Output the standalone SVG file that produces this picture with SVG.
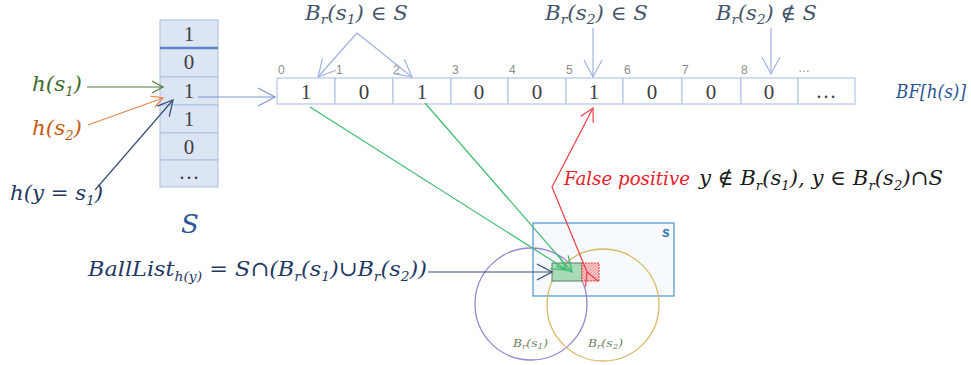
<svg xmlns="http://www.w3.org/2000/svg" width="971" height="365" viewBox="0 0 971 365">
<defs>
<style>
.m{font-family:"DejaVu Serif","Liberation Serif",serif;font-style:italic;}
.cell{fill:#dbe5f3;stroke:#a9bfdf;stroke-width:1;}
.bf{fill:#fff;stroke:#b4c7e7;stroke-width:1.2;}
.idx{font-family:"Liberation Sans","DejaVu Sans",sans-serif;font-size:12px;fill:#8c8c8c;}
.val{font-family:"Liberation Serif","DejaVu Serif",serif;font-size:21px;fill:#404040;text-anchor:middle;}
.sub{font-size:13px;}
</style>
<marker id="aG" markerUnits="userSpaceOnUse" markerWidth="16" markerHeight="16" refX="12" refY="7" orient="auto"><path d="M1,1 L12,7 L1,13" fill="none" stroke="#4f7a3a" stroke-width="1.2"/></marker>
<marker id="aO" markerUnits="userSpaceOnUse" markerWidth="16" markerHeight="16" refX="12" refY="7" orient="auto"><path d="M1,1 L12,7 L1,13" fill="none" stroke="#e9864a" stroke-width="1.2"/></marker>
<marker id="aN" markerUnits="userSpaceOnUse" markerWidth="20" markerHeight="20" refX="16" refY="9" orient="auto"><path d="M1,1 L16,9 L1,17" fill="none" stroke="#3a4e78" stroke-width="1.3"/></marker>
<marker id="aB" markerUnits="userSpaceOnUse" markerWidth="22" markerHeight="22" refX="18" refY="10" orient="auto"><path d="M1,1 L18,10 L1,19" fill="none" stroke="#7a98d4" stroke-width="1.2"/></marker>
<marker id="aL" markerUnits="userSpaceOnUse" markerWidth="22" markerHeight="22" refX="18" refY="10" orient="auto"><path d="M1,1 L18,10 L1,19" fill="none" stroke="#9fb3e0" stroke-width="1.2"/></marker>
<marker id="aGr" markerUnits="userSpaceOnUse" markerWidth="20" markerHeight="20" refX="16" refY="9" orient="auto"><path d="M1,1 L16,9 L1,17" fill="none" stroke="#3dbb6e" stroke-width="1.3"/></marker>
<marker id="aR" markerUnits="userSpaceOnUse" markerWidth="18" markerHeight="18" refX="14" refY="8" orient="auto"><path d="M1,1 L14,8 L1,15" fill="none" stroke="#ee3b47" stroke-width="1.2"/></marker>
<pattern id="hatch" patternUnits="userSpaceOnUse" width="3" height="3"><rect width="3" height="3" fill="#f8c4c4"/><path d="M0,3 L3,0" stroke="#ee7a7a" stroke-width="0.6"/></pattern>
</defs>

<g id="S-array">
<rect class="cell" x="160" y="20" width="58" height="28"/>
<rect class="cell" x="160" y="48" width="58" height="29"/>
<rect class="cell" x="160" y="77" width="58" height="28"/>
<rect class="cell" x="160" y="105" width="58" height="28"/>
<rect class="cell" x="160" y="133" width="58" height="27"/>
<rect class="cell" x="160" y="160" width="58" height="27"/>
<line x1="160" y1="48" x2="218" y2="48" stroke="#5b86c5" stroke-width="2.5"/>
<text class="val" x="189" y="41">1</text>
<text class="val" x="189" y="69">0</text>
<text class="val" x="189" y="98">1</text>
<text class="val" x="189" y="126">1</text>
<text class="val" x="189" y="154">0</text>
<text class="val" x="189" y="179" font-size="16">…</text>
<text class="m" x="190" y="233" font-size="26" fill="#2e5597" text-anchor="middle">S</text>
</g>

<g id="hash-labels">
<text class="m" x="32" y="91" font-size="21" fill="#3f6a2a" textLength="50" lengthAdjust="spacingAndGlyphs">h(s<tspan class="sub" dy="5">1</tspan><tspan dy="-5">)</tspan></text>
<text class="m" x="32" y="135" font-size="21" fill="#c55a11" textLength="50" lengthAdjust="spacingAndGlyphs">h(s<tspan class="sub" dy="5">2</tspan><tspan dy="-5">)</tspan></text>
<text class="m" x="10" y="200" font-size="21" fill="#1f3864" textLength="93" lengthAdjust="spacingAndGlyphs">h(y = s<tspan class="sub" dy="5">1</tspan><tspan dy="-5">)</tspan></text>
</g>

<g id="BF-array">
<rect class="bf" x="277" y="78" width="58" height="26"/>
<rect class="bf" x="335" y="78" width="58" height="26"/>
<rect class="bf" x="393" y="78" width="58" height="26"/>
<rect class="bf" x="451" y="78" width="57" height="26"/>
<rect class="bf" x="508" y="78" width="58" height="26"/>
<rect class="bf" x="566" y="78" width="57" height="26"/>
<rect class="bf" x="623" y="78" width="59" height="26"/>
<rect class="bf" x="682" y="78" width="59" height="26"/>
<rect class="bf" x="741" y="78" width="57" height="26"/>
<rect class="bf" x="798" y="78" width="57" height="26"/>
<text class="idx" x="278" y="74">0</text>
<text class="idx" x="336" y="74">1</text>
<text class="idx" x="393" y="74">2</text>
<text class="idx" x="452" y="74">3</text>
<text class="idx" x="509" y="74">4</text>
<text class="idx" x="566" y="74">5</text>
<text class="idx" x="624" y="74">6</text>
<text class="idx" x="682" y="74">7</text>
<text class="idx" x="741" y="74">8</text>
<text class="idx" x="798" y="72" font-size="9">…</text>
<text class="val" x="306" y="99" fill="#22b14c">1</text>
<text class="val" x="364" y="99">0</text>
<text class="val" x="422" y="99" fill="#22b14c">1</text>
<text class="val" x="479" y="99">0</text>
<text class="val" x="537" y="99">0</text>
<text class="val" x="594" y="99">1</text>
<text class="val" x="652" y="99">0</text>
<text class="val" x="711" y="99">0</text>
<text class="val" x="769" y="99">0</text>
<text class="val" x="826" y="98" font-size="16">…</text>
<text class="m" x="896" y="98" font-size="18" fill="#2e5597" textLength="70" lengthAdjust="spacingAndGlyphs">BF[h(s)]</text>
</g>

<g id="ball-labels">
<text class="m" x="305" y="20" font-size="20" fill="#44546a" textLength="103" lengthAdjust="spacingAndGlyphs">B<tspan class="sub" dy="4">r</tspan><tspan dy="-4">(s</tspan><tspan class="sub" dy="4">1</tspan><tspan dy="-4">) ∈ S</tspan></text>
<text class="m" x="545" y="20" font-size="20" fill="#44546a" textLength="103" lengthAdjust="spacingAndGlyphs">B<tspan class="sub" dy="4">r</tspan><tspan dy="-4">(s</tspan><tspan class="sub" dy="4">2</tspan><tspan dy="-4">) ∈ S</tspan></text>
<text class="m" x="716" y="20" font-size="20" fill="#44546a" textLength="101" lengthAdjust="spacingAndGlyphs">B<tspan class="sub" dy="4">r</tspan><tspan dy="-4">(s</tspan><tspan class="sub" dy="4">2</tspan><tspan dy="-4">) ∉ S</tspan></text>
</g>

<g id="set-diagram">
<rect x="533" y="223" width="141" height="73" fill="#f7fafd" stroke="#5b9bd5" stroke-width="1.3"/>
<text x="662" y="237" font-family="Liberation Sans,sans-serif" font-weight="bold" font-style="italic" font-size="14" fill="#2e75b6">s</text>
<circle cx="531" cy="304" r="56" fill="none" stroke="#9b83d3" stroke-width="1.3"/>
<circle cx="603" cy="305" r="56" fill="none" stroke="#d8b964" stroke-width="1.3"/>
<rect x="552" y="263" width="30" height="18" fill="#a8dab6" stroke="#5e7d66" stroke-width="1"/>
<rect x="582" y="263" width="17" height="18" fill="url(#hatch)" stroke="#e43a3a" stroke-width="1" stroke-dasharray="2,1"/>
<text class="m" x="513" y="347" font-size="11" fill="#6d7f5d" textLength="35" lengthAdjust="spacingAndGlyphs">B<tspan font-size="8" dy="2">r</tspan><tspan dy="-2">(s</tspan><tspan font-size="8" dy="2">1</tspan><tspan dy="-2">)</tspan></text>
<text class="m" x="588" y="347" font-size="11" fill="#6d7f5d" textLength="35" lengthAdjust="spacingAndGlyphs">B<tspan font-size="8" dy="2">r</tspan><tspan dy="-2">(s</tspan><tspan font-size="8" dy="2">2</tspan><tspan dy="-2">)</tspan></text>
</g>

<g id="balllist-label">
<text class="m" x="88" y="276" font-size="21" fill="#1f3864" textLength="339" lengthAdjust="spacingAndGlyphs">BallList<tspan class="sub" dy="5">h(y)</tspan><tspan dy="-5"> = S∩(B</tspan><tspan class="sub" dy="5">r</tspan><tspan dy="-5">(s</tspan><tspan class="sub" dy="5">1</tspan><tspan dy="-5">)∪B</tspan><tspan class="sub" dy="5">r</tspan><tspan dy="-5">(s</tspan><tspan class="sub" dy="5">2</tspan><tspan dy="-5">))</tspan></text>
</g>

<g id="false-positive-label">
<text class="m" x="564" y="185" font-size="18" fill="#e8202a" textLength="126" lengthAdjust="spacingAndGlyphs">False positive</text>
<text class="m" x="699" y="185" font-size="21" fill="#1a1a1a" textLength="244" lengthAdjust="spacingAndGlyphs">y ∉ B<tspan class="sub" dy="5">r</tspan><tspan dy="-5">(s</tspan><tspan class="sub" dy="5">1</tspan><tspan dy="-5">), y ∈  B</tspan><tspan class="sub" dy="5">r</tspan><tspan dy="-5">(s</tspan><tspan class="sub" dy="5">2</tspan><tspan dy="-5">)∩S</tspan></text>
</g>

<g id="connectors" fill="none">
<line x1="87" y1="87" x2="163" y2="87" stroke="#4f7a3a" stroke-width="1.2" marker-end="url(#aG)"/>
<line x1="88" y1="125" x2="163" y2="98" stroke="#e9864a" stroke-width="1.2" marker-end="url(#aO)"/>
<line x1="95" y1="190" x2="173" y2="100" stroke="#3a4e78" stroke-width="1.2" marker-end="url(#aN)"/>
<line x1="198" y1="97" x2="275" y2="97" stroke="#7a98d4" stroke-width="1.2" marker-end="url(#aB)"/>
<line x1="357" y1="33" x2="318" y2="77" stroke="#9fb3e0" stroke-width="1.2" marker-end="url(#aL)"/>
<line x1="357" y1="33" x2="412" y2="77" stroke="#9fb3e0" stroke-width="1.2" marker-end="url(#aL)"/>
<line x1="593" y1="28" x2="593" y2="77" stroke="#9fb3e0" stroke-width="1.2" marker-end="url(#aL)"/>
<line x1="771" y1="28" x2="771" y2="74" stroke="#9fb3e0" stroke-width="1.2" marker-end="url(#aL)"/>
<line x1="310" y1="107" x2="567" y2="270" stroke="#3dbb6e" stroke-width="1.2" marker-end="url(#aGr)"/>
<line x1="425" y1="103" x2="572" y2="272" stroke="#3dbb6e" stroke-width="1.2" marker-end="url(#aGr)"/>
<polyline points="587,272 552,187 593,108" stroke="#ee3b47" stroke-width="1.2" marker-start="url(#aR)" marker-end="url(#aR)"/>
<line x1="428" y1="272" x2="552" y2="272" stroke="#3a4e78" stroke-width="1.2" marker-end="url(#aN)"/>
</g>
</svg>
